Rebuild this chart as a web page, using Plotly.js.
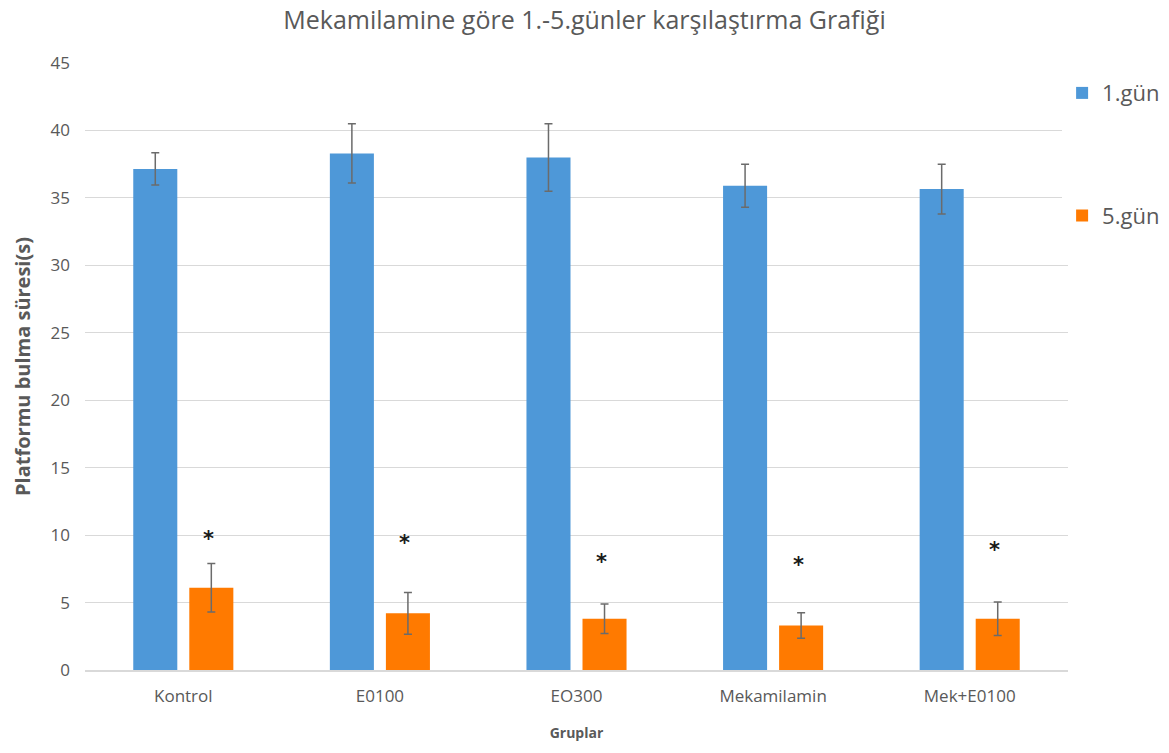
<!DOCTYPE html>
<html><head><meta charset="utf-8">
<script src="https://cdn.plot.ly/plotly-3.0.1.min.js"></script>
<style>body{margin:0;background:#fff}#chart{width:1169px;height:753px}</style>
</head><body><div id="chart"></div>
<script>
const categories = ["Kontrol", "E0100", "EO300", "Mekamilamin", "Mek+E0100"];
const day1 = [37.15, 38.3, 38.0, 35.9, 35.65];
const day1Err = [1.2, 2.2, 2.5, 1.6, 1.85];
const day5 = [6.1, 4.2, 3.8, 3.3, 3.8];
const day5Err = [1.8, 1.55, 1.1, 0.95, 1.25];
const starY = [9.7, 9.4, 8.0, 7.8, 8.9];
const starLabels = ["*", "*", "*", "*", "*"];

const grey = "#595959";
const traces = [
  {type: "bar", name: "1.gün", x: categories, y: day1, legendgroup: "a",
   marker: {color: "#4E98D8"},
   error_y: {type: "data", array: day1Err, visible: true, color: "#6b6b6b", thickness: 1.5, width: 4}},
  {type: "bar", name: "5.gün", x: categories, y: day5, legendgroup: "b",
   marker: {color: "#FF7A00"},
   error_y: {type: "data", array: day5Err, visible: true, color: "#6b6b6b", thickness: 1.5, width: 4}}
];

const annotations = categories.map((c, i) => ({
  x: c, y: starY[i], text: "<b>" + starLabels[i] + "</b>", showarrow: false, xref: "x", yref: "y",
  xshift: 25, font: {size: 21, color: "#1a1a1a", family: "DejaVu Sans"}
}));

const layout = {
  width: 1169, height: 753,
  paper_bgcolor: "#fff", plot_bgcolor: "#fff",
  margin: {l: 85, r: 101, t: 63, b: 83, autoexpand: false},
  title: {text: "Mekamilamine göre 1.-5.günler karşılaştırma Grafiği", x: 0.5, xanchor: "center", y: 0.973, yanchor: "middle",
          font: {family: "Open Sans", size: 25, color: grey}},
  barmode: "group", bargap: 0.43, bargroupgap: 0.214,
  xaxis: {type: "category", tickfont: {family: "Open Sans", size: 17, color: grey},
          showline: true, linecolor: "#d9d9d9", linewidth: 1.5, ticks: "", ticklabelstandoff: 10,
          title: {text: "<b>Gruplar</b>", font: {family: "Open Sans", size: 14, color: grey}, standoff: 22}},
  yaxis: {range: [0, 45], dtick: 5, tickfont: {family: "Open Sans", size: 17, color: grey},
          gridcolor: "#d9d9d9", gridwidth: 1.2, zeroline: false, ticks: "", ticklabelstandoff: 14,
          title: {text: "<b>Platformu bulma süresi(s)</b>", font: {family: "Open Sans", size: 20, color: grey}, standoff: 14}},
  legend: {x: 0.994, xanchor: "left", y: 0.985, yanchor: "top", traceorder: "grouped", tracegroupgap: 91,
           font: {family: "Open Sans", size: 22, color: grey}, itemwidth: 30},
  annotations: annotations,
  showlegend: true
};
Plotly.newPlot("chart", traces, layout, {displayModeBar: false, staticPlot: true});
</script></body></html>
